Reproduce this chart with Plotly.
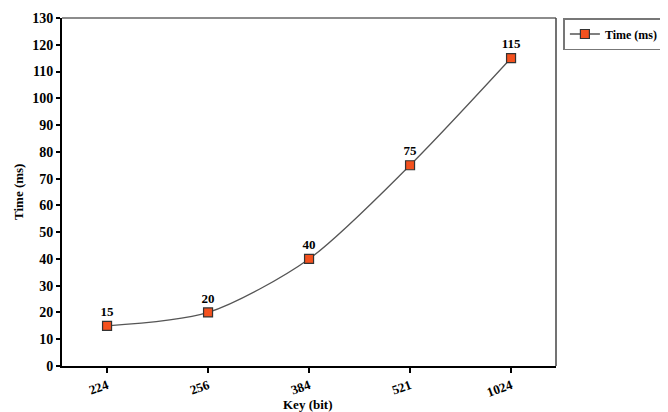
import plotly.graph_objects as go

keys = ["224", "256", "384", "521", "1024"]
times = [15, 20, 40, 75, 115]
y_ticks = list(range(0, 131, 10))

font_family = "Liberation Serif"

fig = go.Figure()
fig.add_trace(go.Scatter(
    x=keys, y=times, mode="lines+markers+text",
    name="<b>Time (ms)</b>",
    line=dict(color="#555555", width=1.3, shape="spline", smoothing=0.8),
    marker=dict(symbol="square", size=9, color="#F4511E", line=dict(color="#333333", width=1.2)),
    text=[f"<b>{v}</b>" for v in times], textposition="top center",
    textfont=dict(family=font_family, size=13, color="black"),
))

# page body has an 8px margin, so the figure is drawn at (8, 8)
fig.update_layout(
    width=660, height=404,
    margin=dict(l=54, r=112, t=10, b=46, autoexpand=False),
    paper_bgcolor="white", plot_bgcolor="white",
    font=dict(family=font_family, color="black"),
    showlegend=True,
    legend=dict(x=1.015, y=1.0, xanchor="left", yanchor="top",
                bordercolor="#777777", borderwidth=1.5, itemwidth=30,
                font=dict(family=font_family, size=12, color="black")),
    xaxis=dict(
        type="category", range=[-0.446, 4.445], automargin=False,
        showline=True, linecolor="black", linewidth=2,
        ticks="outside", ticklen=5, tickcolor="black", tickwidth=1.5,
        tickangle=-20, tickfont=dict(family=font_family, size=13, color="black"),
        tickvals=keys, ticktext=[f"<b>{k}</b>" for k in keys],
        showgrid=False, zeroline=False,
    ),
    yaxis=dict(
        range=[0, 130], automargin=False,
        tickvals=y_ticks, ticktext=[f"<b>{t}</b>" for t in y_ticks],
        showline=True, linecolor="black", linewidth=2,
        ticks="outside", ticklen=4, tickcolor="black", tickwidth=1.5,
        tickfont=dict(family=font_family, size=14, color="black"),
        showgrid=False, zeroline=False,
    ),
    annotations=[
        dict(text="<b>Key (bit)</b>", xref="paper", yref="paper", x=0.497, y=0,
             yshift=-38, xanchor="center", yanchor="middle", showarrow=False,
             font=dict(family=font_family, size=13, color="black")),
        dict(text="<b>Time (ms)</b>", xref="paper", yref="paper", x=0, y=0.5,
             xshift=-44, xanchor="center", yanchor="middle", showarrow=False, textangle=-90,
             font=dict(family=font_family, size=13, color="black")),
    ],
    shapes=[
        dict(type="line", xref="paper", yref="paper", x0=0, x1=1, y0=1, y1=1,
             line=dict(color="#666666", width=1.5)),
        dict(type="line", xref="paper", yref="paper", x0=1, x1=1, y0=0, y1=1,
             line=dict(color="#444444", width=1.5)),
    ],
)

fig.write_html("out.html")
